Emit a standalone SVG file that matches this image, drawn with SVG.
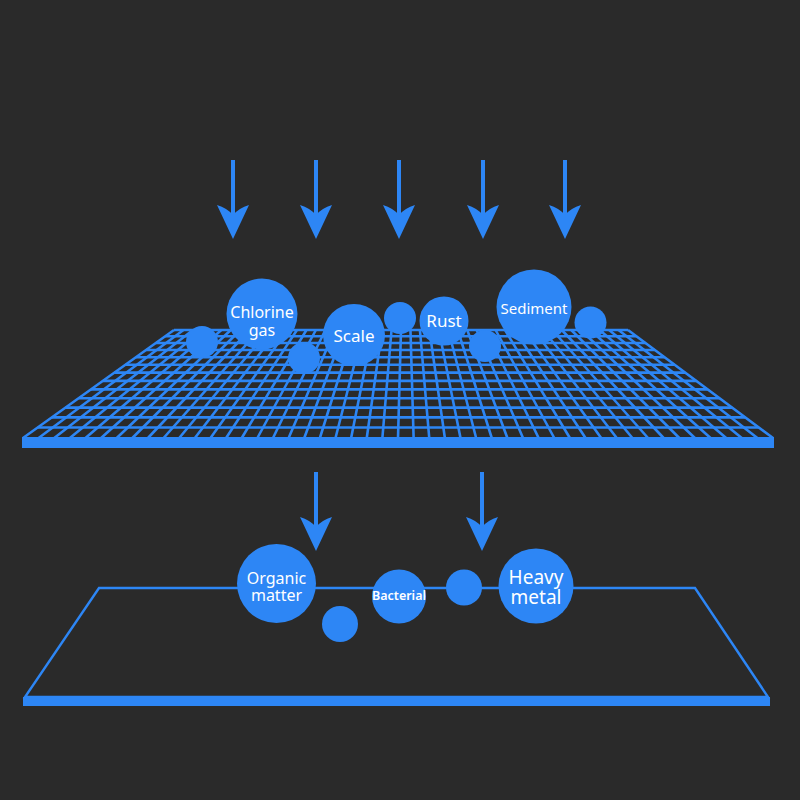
<svg xmlns="http://www.w3.org/2000/svg" width="800" height="800" viewBox="0 0 800 800">
  <style>
    .bg { fill: #2a2a2a; }
    .grid { fill: none; stroke: #2d86f5; stroke-width: 2.6; }
    .plate { fill: none; stroke: #2d86f5; stroke-width: 2.4; stroke-linejoin: miter; }
    .slab { fill: #2d86f5; }
    .ball { fill: #2d86f5; }
    .lbl { fill: #ffffff; font-family: "Noto Sans", "Open Sans", sans-serif; text-anchor: middle; }
    .arrow { fill: #2d86f5; }
  </style>
  <defs>
    <g id="arrowShape">
      <rect x="-2" y="0" width="4" height="56"/>
      <path d="M -16 45 L 0 79 L 16 45 Q 6 48 0 55 Q -6 48 -16 45 Z"/>
    </g>
  </defs>
  <rect class="bg" x="0" y="0" width="800" height="800"/>

  <g id="filter-grid">
    <path class="grid" d="M174 330 L23 438 M183.46 330 L38.63 438 M192.92 330 L54.25 438 M202.38 330 L69.88 438 M211.83 330 L85.5 438 M221.29 330 L101.13 438 M230.75 330 L116.75 438 M240.21 330 L132.38 438 M249.67 330 L148 438 M259.13 330 L163.63 438 M268.58 330 L179.25 438 M278.04 330 L194.88 438 M287.5 330 L210.5 438 M296.96 330 L226.13 438 M306.42 330 L241.75 438 M315.88 330 L257.38 438 M325.33 330 L273 438 M334.79 330 L288.63 438 M344.25 330 L304.25 438 M353.71 330 L319.88 438 M363.17 330 L335.5 438 M372.63 330 L351.13 438 M382.08 330 L366.75 438 M391.54 330 L382.38 438 M401 330 L398 438 M410.46 330 L413.63 438 M419.92 330 L429.25 438 M429.38 330 L444.88 438 M438.83 330 L460.5 438 M448.29 330 L476.13 438 M457.75 330 L491.75 438 M467.21 330 L507.38 438 M476.67 330 L523 438 M486.13 330 L538.63 438 M495.58 330 L554.25 438 M505.04 330 L569.88 438 M514.5 330 L585.5 438 M523.96 330 L601.13 438 M533.42 330 L616.75 438 M542.88 330 L632.38 438 M552.33 330 L648 438 M561.79 330 L663.63 438 M571.25 330 L679.25 438 M580.71 330 L694.88 438 M590.17 330 L710.5 438 M599.63 330 L726.13 438 M609.08 330 L741.75 438 M618.54 330 L757.38 438 M628 330 L773 438"/>
    <path class="grid" d="M174 330 L628 330 M165.16 336.32 L636.49 336.32 M155.84 342.99 L645.44 342.99 M146.12 349.94 L654.77 349.94 M135.99 357.19 L664.51 357.19 M125.43 364.74 L674.64 364.74 M114.41 372.62 L685.22 372.62 M102.93 380.83 L696.24 380.83 M90.97 389.39 L707.74 389.39 M78.48 398.32 L719.73 398.32 M65.47 407.63 L732.23 407.63 M51.9 417.33 L745.25 417.33 M37.76 427.45 L758.84 427.45"/>
    <rect class="slab" x="22" y="437" width="752" height="11"/>
  </g>

  <g id="base-plate">
    <polygon class="plate" points="99,588 695,588 768,697 25,697"/>
    <rect class="slab" x="23" y="697" width="747" height="9"/>
  </g>

  <g id="connectors">
    <use href="#arrowShape" class="arrow" transform="translate(233,160)"/>
    <use href="#arrowShape" class="arrow" transform="translate(316,160)"/>
    <use href="#arrowShape" class="arrow" transform="translate(399,160)"/>
    <use href="#arrowShape" class="arrow" transform="translate(483,160)"/>
    <use href="#arrowShape" class="arrow" transform="translate(565,160)"/>
    <use href="#arrowShape" class="arrow" transform="translate(316,472)"/>
    <use href="#arrowShape" class="arrow" transform="translate(482,472)"/>
  </g>

  <g id="dot-1"><circle class="ball" cx="202" cy="342" r="16"/></g>
  <g id="chlorine-gas">
    <circle class="ball" cx="262" cy="314" r="35.5"/>
    <text class="lbl" x="262" y="318" font-size="16">Chlorine</text>
    <text class="lbl" x="262" y="336" font-size="16">gas</text>
  </g>
  <g id="dot-2"><circle class="ball" cx="304" cy="358" r="16"/></g>
  <g id="scale">
    <circle class="ball" cx="354" cy="335" r="31"/>
    <text class="lbl" x="354" y="341.5" font-size="17">Scale</text>
  </g>
  <g id="dot-3"><circle class="ball" cx="400" cy="318" r="16"/></g>
  <g id="rust">
    <circle class="ball" cx="444" cy="321" r="24.5"/>
    <text class="lbl" x="444" y="327" font-size="17">Rust</text>
  </g>
  <g id="dot-4"><circle class="ball" cx="485" cy="346" r="16"/></g>
  <g id="sediment">
    <circle class="ball" cx="534" cy="307" r="37.5"/>
    <text class="lbl" x="534" y="314" font-size="15">Sediment</text>
  </g>
  <g id="dot-5"><circle class="ball" cx="590.5" cy="322.5" r="16"/></g>

  <g id="organic-matter">
    <circle class="ball" cx="276.5" cy="583.5" r="39.5"/>
    <text class="lbl" x="276.5" y="584" font-size="16">Organic</text>
    <text class="lbl" x="276.5" y="601" font-size="16">matter</text>
  </g>
  <g id="dot-6"><circle class="ball" cx="340" cy="624" r="18"/></g>
  <g id="bacterial">
    <circle class="ball" cx="399" cy="596.5" r="27"/>
    <text class="lbl" x="399" y="600" font-size="12.5" font-weight="600">Bacterial</text>
  </g>
  <g id="dot-7"><circle class="ball" cx="464" cy="587.5" r="18"/></g>
  <g id="heavy-metal">
    <circle class="ball" cx="536" cy="586" r="37.5"/>
    <text class="lbl" x="536" y="584" font-size="19">Heavy</text>
    <text class="lbl" x="536" y="604" font-size="19">metal</text>
  </g>
</svg>
